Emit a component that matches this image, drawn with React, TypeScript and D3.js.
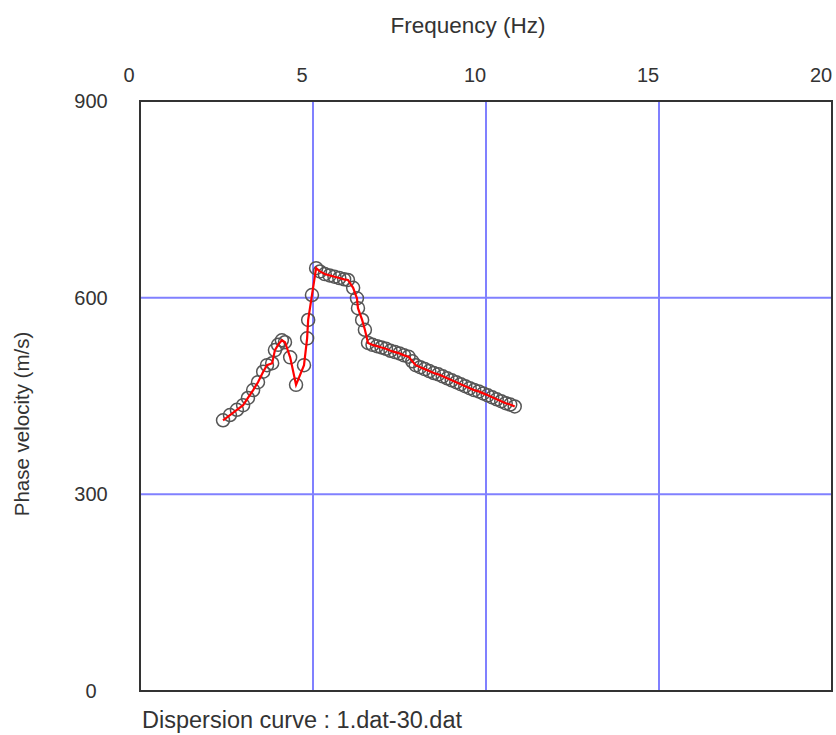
import React from "react";
import * as d3 from "d3";

const freqs = [
  2.40, 2.60, 2.80, 2.98, 3.12, 3.27, 3.41, 3.56, 3.67, 3.82, 3.90, 3.99, 4.10, 4.19, 4.34, 4.51,
  4.74, 4.83, 4.86, 4.97, 5.09, 5.20, 5.34, 5.48, 5.62, 5.76, 5.90, 6.01, 6.16, 6.27, 6.30, 6.42,
  6.50, 6.59, 6.72, 6.85, 6.98, 7.11, 7.24, 7.37, 7.50, 7.63, 7.76, 7.87, 7.97, 8.10, 8.23, 8.36,
  8.49, 8.62, 8.75, 8.88, 9.01, 9.14, 9.27, 9.40, 9.53, 9.66, 9.79, 9.92, 10.05, 10.18, 10.31,
  10.44, 10.57, 10.70, 10.83,
];
const velocities = [
  413, 421, 429, 436, 447, 459, 471, 487, 497, 500, 520, 528, 535, 532, 509, 467,
  497, 538, 566, 604, 645, 640, 636, 634, 632, 630, 628, 627, 615, 599, 584, 566,
  551, 531, 528, 526, 524, 522, 519, 517, 515, 512, 510, 503, 497, 494, 491, 488,
  485, 483, 480, 477, 474, 471, 468, 465, 462, 459, 457, 454, 451, 448, 445,
  442, 439, 437, 434,
];
const xTicks = [0, 5, 10, 15, 20];
const yTicks = [0, 300, 600, 900];
const xTitle = "Frequency (Hz)";
const yTitle = "Phase velocity (m/s)";
const caption = "Dispersion curve : 1.dat-30.dat";

export default function App() {
  const W = 836, H = 735;
  const left = 140, right = 832, top = 101, bottom = 691;
  const x = d3.scaleLinear().domain([0, 20]).range([left, right]);
  const y = d3.scaleLinear().domain([0, 900]).range([bottom, top]);
  const pts = freqs.map((f, i) => [f, velocities[i]] as [number, number]);
  const line = d3.line<[number, number]>().x((d) => x(d[0])).y((d) => y(d[1]));
  const font = "'Liberation Sans', Arial, sans-serif";
  const gridColor = "#8080ff";
  return (
    <svg width={W} height={H} style={{ position: "absolute", left: 0, top: 0, background: "#fff" }}>
      <rect x={0} y={0} width={W} height={H} fill="#fff" />
      {xTicks.slice(1, -1).map((t) => (
        <line key={"gx" + t} x1={x(t)} x2={x(t)} y1={top} y2={bottom} stroke={gridColor} strokeWidth={2} />
      ))}
      {yTicks.slice(1, -1).map((t) => (
        <line key={"gy" + t} x1={left} x2={right} y1={y(t)} y2={y(t)} stroke={gridColor} strokeWidth={2} />
      ))}
      <rect x={left} y={top} width={right - left} height={bottom - top} fill="none" stroke="#333" strokeWidth={2} />
      {xTicks.map((t) => (
        <text key={"tx" + t} x={x(t) - 11} y={75} textAnchor="middle" dominantBaseline="central"
          fontFamily={font} fontSize={20} fill="#333">{t}</text>
      ))}
      {yTicks.map((t) => (
        <text key={"ty" + t} x={91} y={y(t)} textAnchor="middle" dominantBaseline="central"
          fontFamily={font} fontSize={20} fill="#333">{t}</text>
      ))}
      <text x={468} y={25} textAnchor="middle" dominantBaseline="central" fontFamily={font} fontSize={22.5} fill="#333">{xTitle}</text>
      <text transform={`translate(21,424) rotate(-90)`} textAnchor="middle" dominantBaseline="central"
        fontFamily={font} fontSize={20.5} fill="#333">{yTitle}</text>
      <text x={142} y={720} textAnchor="start" dominantBaseline="central" fontFamily={font} fontSize={23.5} fill="#333">{caption}</text>
      {pts.map((d, i) => (
        <circle key={"c" + i} cx={x(d[0])} cy={y(d[1])} r={6.5} fill="none" stroke="#555" strokeWidth={1.5} />
      ))}
      <path d={line(pts) || ""} fill="none" stroke="#ff0000" strokeWidth={2.2} />
    </svg>
  );
}
